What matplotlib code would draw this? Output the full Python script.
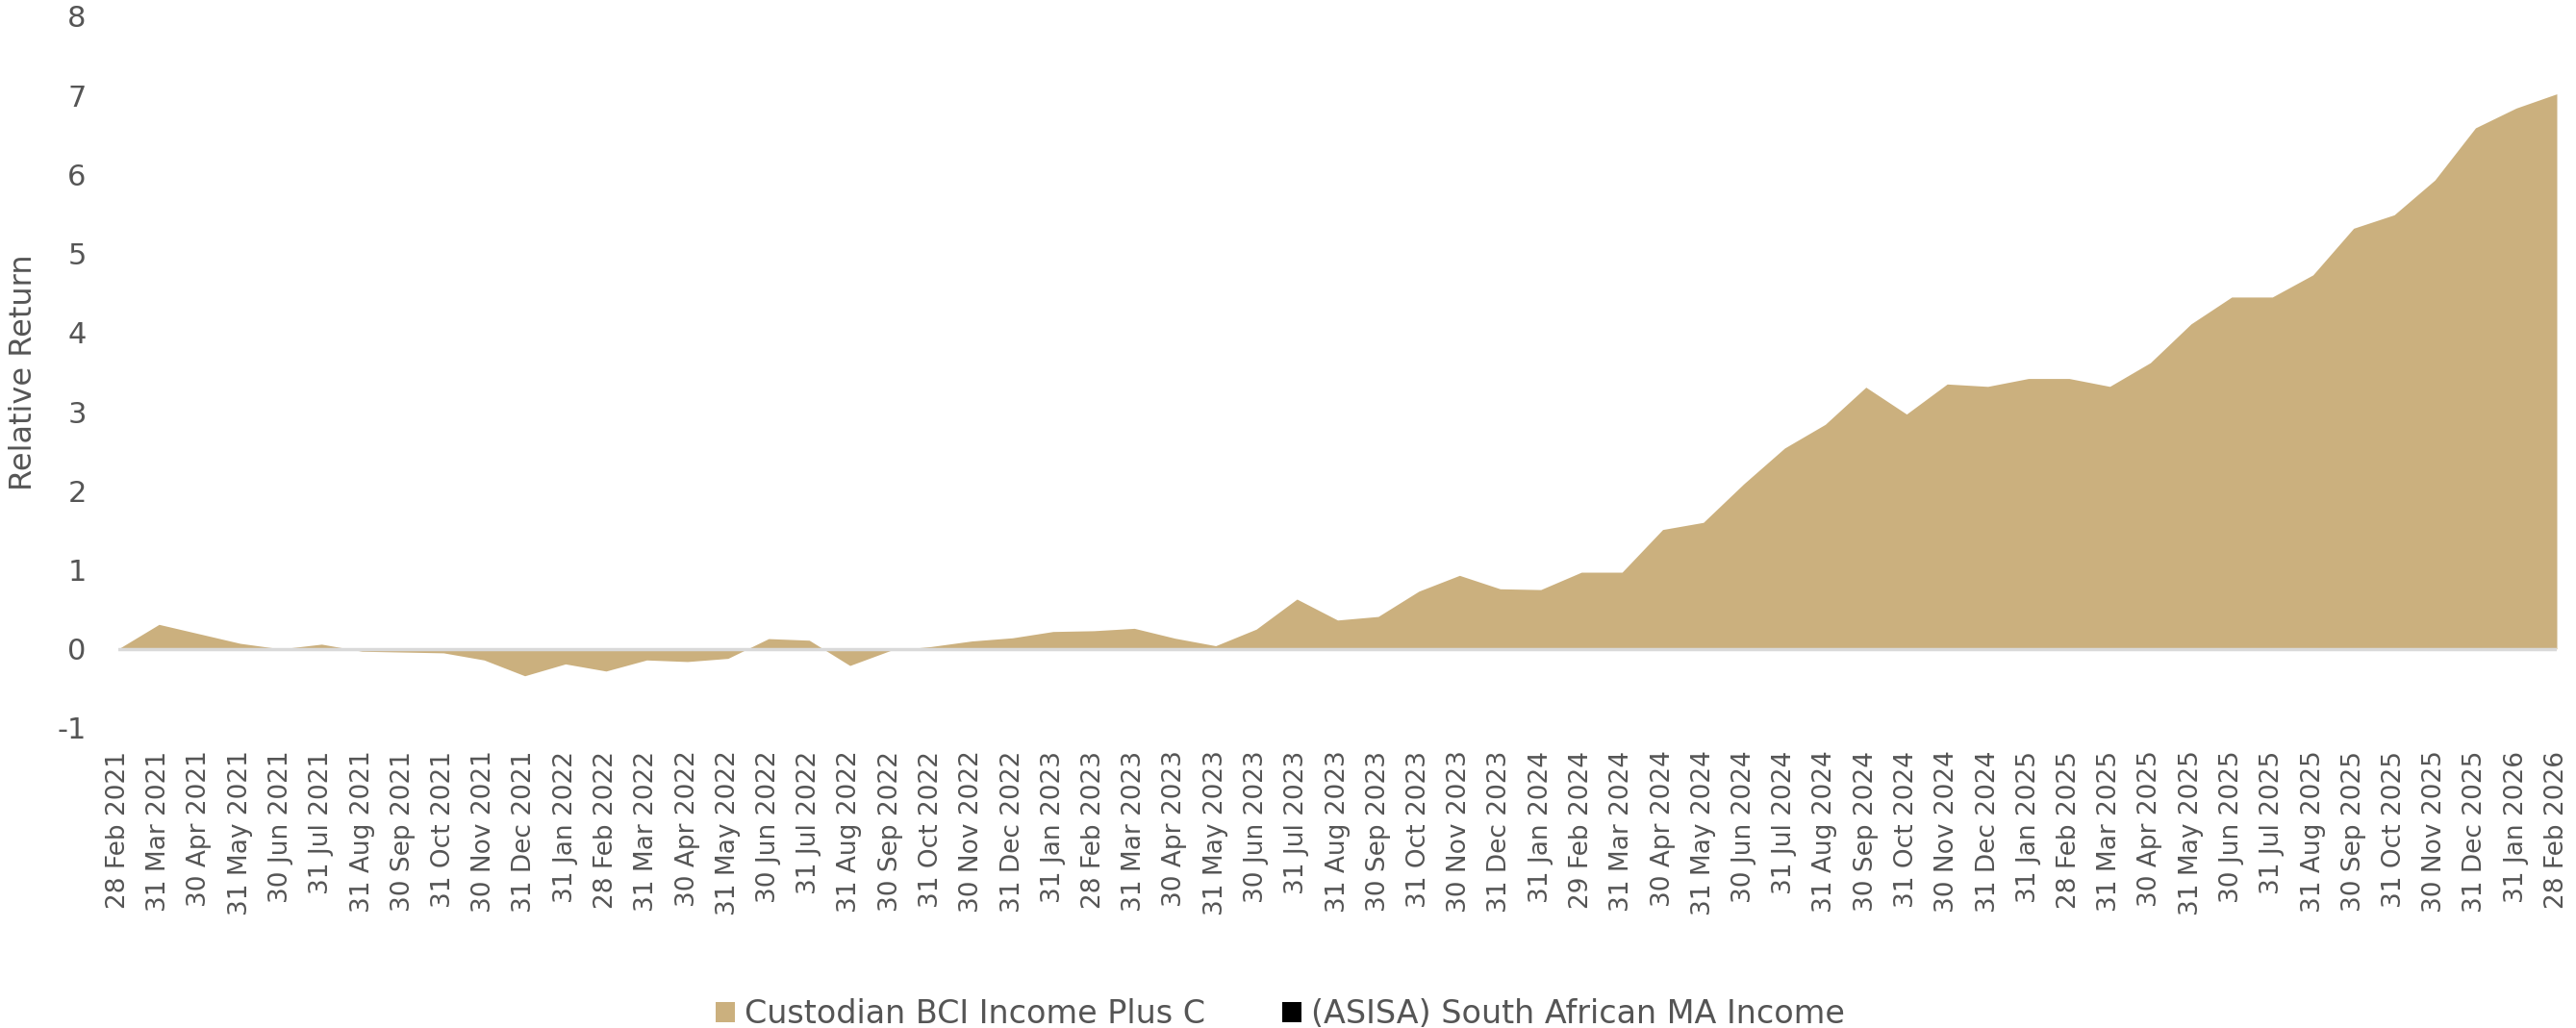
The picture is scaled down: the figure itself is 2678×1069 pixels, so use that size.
import matplotlib
matplotlib.use("Agg")
import matplotlib.pyplot as plt
from matplotlib.patches import Patch

dates = [
    "28 Feb 2021", "31 Mar 2021", "30 Apr 2021", "31 May 2021", "30 Jun 2021", "31 Jul 2021",
    "31 Aug 2021", "30 Sep 2021", "31 Oct 2021", "30 Nov 2021", "31 Dec 2021",
    "31 Jan 2022", "28 Feb 2022", "31 Mar 2022", "30 Apr 2022", "31 May 2022", "30 Jun 2022",
    "31 Jul 2022", "31 Aug 2022", "30 Sep 2022", "31 Oct 2022", "30 Nov 2022", "31 Dec 2022",
    "31 Jan 2023", "28 Feb 2023", "31 Mar 2023", "30 Apr 2023", "31 May 2023", "30 Jun 2023",
    "31 Jul 2023", "31 Aug 2023", "30 Sep 2023", "31 Oct 2023", "30 Nov 2023", "31 Dec 2023",
    "31 Jan 2024", "29 Feb 2024", "31 Mar 2024", "30 Apr 2024", "31 May 2024", "30 Jun 2024",
    "31 Jul 2024", "31 Aug 2024", "30 Sep 2024", "31 Oct 2024", "30 Nov 2024", "31 Dec 2024",
    "31 Jan 2025", "28 Feb 2025", "31 Mar 2025", "30 Apr 2025", "31 May 2025", "30 Jun 2025",
    "31 Jul 2025", "31 Aug 2025", "30 Sep 2025", "31 Oct 2025", "30 Nov 2025", "31 Dec 2025",
    "31 Jan 2026", "28 Feb 2026",
]

relative_return = [
    0.00, 0.31, 0.19, 0.07, 0.00, 0.06, -0.03, -0.04, -0.05, -0.14, -0.34,
    -0.19, -0.28, -0.14, -0.16, -0.12, 0.13, 0.11, -0.21, -0.02, 0.03, 0.10, 0.14,
    0.22, 0.23, 0.26, 0.135, 0.04, 0.25, 0.63, 0.365, 0.41, 0.73, 0.93, 0.76,
    0.75, 0.97, 0.97, 1.51, 1.60, 2.09, 2.54, 2.84, 3.31, 2.97, 3.35, 3.32,
    3.42, 3.42, 3.32, 3.62, 4.11, 4.45, 4.45, 4.73, 5.32, 5.49, 5.93, 6.59,
    6.84, 7.02,
]

series_names = ["Custodian BCI Income Plus C", "(ASISA) South African MA Income"]
series_colors = ["#CBB07E", "#000000"]

y_ticks = [-1, 0, 1, 2, 3, 4, 5, 6, 7, 8]

TEXT = "#555555"
plt.rcParams["font.family"] = ["DejaVu Sans"]

fig = plt.figure(figsize=(26.78, 10.69), dpi=100)
ax = fig.add_axes([123 / 2678, 1 - 757 / 1069, (2658 - 123) / 2678, (757 - 17) / 1069])

x = list(range(len(dates)))
ax.fill_between(x, 0, relative_return, color=series_colors[0], linewidth=0, zorder=2)
ax.axhline(0, color="#d9d9d9", linewidth=2.5, zorder=3)

ax.set_xlim(0, len(dates) - 1)
ax.set_ylim(-1, 8)
ax.set_yticks(y_ticks)
ax.set_yticklabels([str(v) for v in y_ticks])
ax.set_xticks(x)
ax.set_xticklabels(dates, rotation=90)

for s in ax.spines.values():
    s.set_visible(False)
ax.tick_params(axis="both", length=0, colors=TEXT)
ax.tick_params(axis="x", pad=17, labelsize=19)
ax.tick_params(axis="y", pad=24, labelsize=22)

ax.set_ylabel("Relative Return", fontsize=23, color=TEXT)
ax.yaxis.set_label_coords(-0.0327, 0.5)

handles = [Patch(facecolor=c, edgecolor="none") for c in series_colors]
leg = fig.legend(handles, series_names, loc="center", bbox_to_anchor=(0.497, 1 - 1055 / 1069),
                 ncol=2, frameon=False, fontsize=24, handlelength=0.6, handleheight=0.6,
                 handletextpad=0.3, columnspacing=2.4, labelcolor=TEXT)

fig.savefig("out.png", dpi=100, facecolor="white")
